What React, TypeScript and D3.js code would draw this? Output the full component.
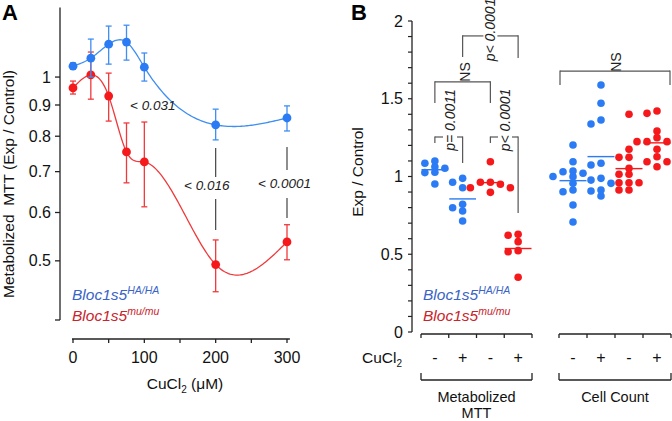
import React from "react";
import * as d3 from "d3";

// ---------- Panel A data ----------
const concentrations = [0, 25, 50, 75, 100, 200, 300];
const haMean = [1.042, 1.074, 1.132, 1.141, 1.038, 0.835, 0.857];
const haUpper = [1.055, 1.154, 1.212, 1.216, 1.095, 0.886, 0.897];
const haLower = [1.03, 1.0, 1.05, 1.066, 0.985, 0.789, 0.816];
const muMean = [0.96, 1.008, 0.931, 0.754, 0.726, 0.493, 0.537];
const muUpper = [0.985, 1.099, 1.015, 0.841, 0.844, 0.541, 0.573];
const muLower = [0.938, 0.92, 0.847, 0.671, 0.613, 0.445, 0.502];
const yTicksA = [0.4, 0.5, 0.6, 0.7, 0.8, 0.9, 1];
const yTickLabelsA = [0.5, 0.6, 0.7, 0.8, 0.9, 1];
const xTicksA = [0, 50, 100, 150, 200, 250, 300];
const xTickLabelsA = [0, 100, 200, 300];
const pLabelsA = ["< 0.031", "< 0.016", "< 0.0001"];

// ---------- Panel B data ----------
const treatmentLabels = ["-", "+", "-", "+"];
const mttHAminus = [1.1, 1.085, 1.063, 1.053, 1.027, 1.025, 0.952];
const mttHAplus = [0.988, 0.963, 0.928, 0.821, 0.799, 0.778, 0.714];
const mttMuMinus = [1.095, 0.963, 0.963, 0.95, 0.928, 0.928, 0.898];
const mttMuPlus = [0.628, 0.622, 0.581, 0.523, 0.516, 0.352];
const cellHAminus = [1.203, 1.095, 1.035, 1.031, 1.021, 1.0, 0.999, 0.956, 0.913, 0.902, 0.817, 0.707];
const cellHAplus = [1.588, 1.471, 1.363, 1.338, 1.085, 1.074, 0.988, 0.977, 0.956, 0.913, 0.907, 0.875];
const cellMuMinus = [1.4, 1.175, 1.123, 1.123, 1.053, 1.014, 1.014, 0.96, 0.96, 0.96, 0.913, 0.913];
const cellMuPlus = [1.421, 1.406, 1.293, 1.25, 1.224, 1.224, 1.224, 1.175, 1.127, 1.095, 1.095, 1.063];
const yTicksB = d3.range(0, 21).map((i) => i / 10);
const yTickLabelsB = [0, 0.5, 1, 1.5, 2];

const BLUE = "#2b7cf4";
const RED = "#f5191c";
const BLUE_LINE = "#3f8ef2";
const RED_LINE = "#f0393b";
const BLUE_TEXT = "#3a63c6";
const RED_TEXT = "#c9242b";
const AXIS = "#222";
const FONT = "'Liberation Sans', Arial, Helvetica, sans-serif";

function naturalSpline(xs: number[], ys: number[]) {
  const n = xs.length;
  const h: number[] = [];
  for (let i = 0; i < n - 1; i++) h.push(xs[i + 1] - xs[i]);
  const alpha = new Array(n).fill(0);
  for (let i = 1; i < n - 1; i++)
    alpha[i] = (3 / h[i]) * (ys[i + 1] - ys[i]) - (3 / h[i - 1]) * (ys[i] - ys[i - 1]);
  const l = new Array(n).fill(0), mu = new Array(n).fill(0), z = new Array(n).fill(0);
  l[0] = 1;
  for (let i = 1; i < n - 1; i++) {
    l[i] = 2 * (xs[i + 1] - xs[i - 1]) - h[i - 1] * mu[i - 1];
    mu[i] = h[i] / l[i];
    z[i] = (alpha[i] - h[i - 1] * z[i - 1]) / l[i];
  }
  l[n - 1] = 1;
  const c = new Array(n).fill(0), b = new Array(n).fill(0), d = new Array(n).fill(0);
  for (let j = n - 2; j >= 0; j--) {
    c[j] = z[j] - mu[j] * c[j + 1];
    b[j] = (ys[j + 1] - ys[j]) / h[j] - (h[j] * (c[j + 1] + 2 * c[j])) / 3;
    d[j] = (c[j + 1] - c[j]) / (3 * h[j]);
  }
  return (x: number) => {
    let j = 0;
    while (j < n - 2 && x > xs[j + 1]) j++;
    const dx = x - xs[j];
    return ys[j] + b[j] * dx + c[j] * dx * dx + d[j] * dx * dx * dx;
  };
}

function swarm(values: number[], cx: number, y: (v: number) => number, step = 10, minDist = 5.5) {
  const order = values.map((v) => v).sort((a, b) => b - a);
  const placed: { x: number; y: number; v: number }[] = [];
  for (const v of order) {
    const py = y(v);
    for (const k of [0, -1, 1, -2, 2, -3, 3]) {
      const px = cx + k * step;
      if (placed.every((p) => Math.hypot(p.x - px, p.y - py) >= minDist)) {
        placed.push({ x: px, y: py, v });
        break;
      }
    }
  }
  return placed;
}

function Legend({ x, y1, y2 }: { x: number; y1: number; y2: number }) {
  return (
    <g fontStyle="italic" fontSize={15.5}>
      <text x={x} y={y1} fill={BLUE_TEXT}>
        Bloc1s5<tspan dy={-6} fontSize={10.5}>HA/HA</tspan>
      </text>
      <text x={x} y={y2} fill={RED_TEXT}>
        Bloc1s5<tspan dy={-6} fontSize={10.5}>mu/mu</tspan>
      </text>
    </g>
  );
}

export default function App() {
  // ---------- Panel A scales ----------
  const xA = d3.scaleLinear().domain([0, 300]).range([73, 287]);
  const yA = d3.scaleLog().domain([0.4, 1.3]).range([320, 7.5]);
  const axisAx = 60;
  const axisAy = 339;

  const fitPath = (vals: number[]) => {
    const f = naturalSpline(concentrations, vals.map((v) => Math.log(v)));
    const xs = d3.range(0, 300.01, 2);
    return d3
      .line<number>()
      .x((c) => xA(c))
      .y((c) => yA(Math.exp(f(c))))
      .curve(d3.curveLinear)(xs) as string;
  };

  const seriesA = [
    { mean: muMean, up: muUpper, lo: muLower, dot: RED, line: RED_LINE },
    { mean: haMean, up: haUpper, lo: haLower, dot: BLUE, line: BLUE_LINE },
  ];

  // annotation layout for panel A
  const annA = [
    { label: pLabelsA[0], x: 130, y: 110, line: null as null | number[] },
    { label: pLabelsA[1], x: 184, y: 190, line: [concentrations[5], 148, 177, 199, 230] },
    { label: pLabelsA[2], x: 258, y: 188, line: [concentrations[6], 147, 170, 198, 218] },
  ];

  // ---------- Panel B scales ----------
  const yB = d3.scaleLinear().domain([0, 2]).range([332, 21]);
  const axisBx = 412;
  const axisBy = 334;
  const bandM = d3.scaleBand<number>().domain([0, 1, 2, 3]).range([421, 532]);
  const bandC = d3.scaleBand<number>().domain([0, 1, 2, 3]).range([559, 671]);
  const cM = (i: number) => (bandM(i) as number) + bandM.bandwidth() / 2;
  const cC = (i: number) => (bandC(i) as number) + bandC.bandwidth() / 2;
  const colors = [BLUE, BLUE, RED, RED];
  const groupsB = [
    ...[mttHAminus, mttHAplus, mttMuMinus, mttMuPlus].map((vals, i) => ({ vals, band: bandM, i, cx: cM(i) })),
    ...[cellHAminus, cellHAplus, cellMuMinus, cellMuPlus].map((vals, i) => ({ vals, band: bandC, i, cx: cC(i) })),
  ];

  const bracket = (
    x1: number, x2: number, yv: number, leg1: number, leg2: number,
    label: string, lx: number, ly: number, gap: boolean, key: string
  ) => {
    const y = yB(yv);
    const segs: number[][] = gap
      ? [[x1, lx - 7], [lx + 7, x2]]
      : [[x1, x2]];
    return (
      <g key={key}>
        {segs.map((s, k) => (
          <line key={k} x1={s[0]} x2={s[1]} y1={y} y2={y} stroke="#555" strokeWidth={1.2} />
        ))}
        <line x1={x1} x2={x1} y1={y - 0.6} y2={yB(leg1)} stroke="#555" strokeWidth={1.2} />
        <line x1={x2} x2={x2} y1={y - 0.6} y2={yB(leg2)} stroke="#555" strokeWidth={1.2} />
        <text
          transform={`translate(${lx},${ly}) rotate(-90)`}
          textAnchor="middle"
          dominantBaseline="central"
          fontSize={14}
          fontStyle={label.startsWith("p") ? "italic" : "normal"}
          fill="#222"
        >
          {label}
        </text>
      </g>
    );
  };

  const nsMid = (cM(0) + cM(2)) / 2;

  return (
    <svg
      width={672}
      height={421}
      style={{ position: "absolute", left: 0, top: 0, background: "#fff" }}
      fontFamily={FONT}
    >
      {/* ================= Panel A ================= */}
      <text x={2} y={20} fontSize={22} fontWeight="bold">A</text>
      {/* y axis */}
      <line x1={axisAx} x2={axisAx} y1={yA(1.3)} y2={yA(0.4)} stroke={AXIS} strokeWidth={1.3} />
      {yTicksA.map((t) => (
        <line key={t} x1={axisAx - 5} x2={axisAx} y1={yA(t)} y2={yA(t)} stroke={AXIS} strokeWidth={1.3} />
      ))}
      {yTickLabelsA.map((t) => (
        <text key={t} x={axisAx - 9} y={yA(t)} dy="0.35em" textAnchor="end" fontSize={16} fill="#111">
          {String(t)}
        </text>
      ))}
      <text
        transform={`translate(14,184) rotate(-90)`}
        textAnchor="middle"
        fontSize={15.5}
        fill="#111"
      >
        Metabolized{"\u00a0\u00a0"}MTT (Exp / Control)
      </text>
      {/* x axis */}
      <line x1={xA(0) - 1} x2={xA(304)} y1={axisAy} y2={axisAy} stroke={AXIS} strokeWidth={1.3} />
      {xTicksA.map((t) => (
        <line key={t} x1={xA(t)} x2={xA(t)} y1={axisAy} y2={axisAy + 4} stroke={AXIS} strokeWidth={1.3} />
      ))}
      {xTickLabelsA.map((t) => (
        <text key={t} x={xA(t)} y={363} textAnchor="middle" fontSize={16} fill="#111">
          {t}
        </text>
      ))}
      <text x={xA(157)} y={389} textAnchor="middle" fontSize={15.5} fill="#111">
        CuCl<tspan dy={4} fontSize={10}>2</tspan>
        <tspan dy={-4}> (μM)</tspan>
      </text>

      {/* fitted curves */}
      {seriesA.map((s, k) => (
        <path key={k} d={fitPath(s.mean)} fill="none" stroke={s.line} strokeWidth={1.3} />
      ))}
      {/* error bars + points */}
      {seriesA.map((s, k) => (
        <g key={k}>
          {concentrations.map((c, i) => (
            <g key={i} stroke={s.line} strokeWidth={1.3}>
              <line x1={xA(c)} x2={xA(c)} y1={yA(s.up[i])} y2={yA(s.lo[i])} />
              <line x1={xA(c) - 3} x2={xA(c) + 3} y1={yA(s.up[i])} y2={yA(s.up[i])} />
              <line x1={xA(c) - 3} x2={xA(c) + 3} y1={yA(s.lo[i])} y2={yA(s.lo[i])} />
            </g>
          ))}
          {concentrations.map((c, i) => (
            <circle key={i} cx={xA(c)} cy={yA(s.mean[i])} r={4.4} fill={s.dot} />
          ))}
        </g>
      ))}
      {/* annotations */}
      {annA.map((a, k) => (
        <g key={k}>
          <text x={a.x} y={a.y} fontSize={13.5} fontStyle="italic" fill="#222">
            {a.label}
          </text>
          {a.line && (
            <g stroke="#444" strokeWidth={1.2}>
              <line x1={xA(a.line[0])} x2={xA(a.line[0])} y1={a.line[1]} y2={a.line[2]} />
              <line x1={xA(a.line[0])} x2={xA(a.line[0])} y1={a.line[3]} y2={a.line[4]} />
            </g>
          )}
        </g>
      ))}
      <Legend x={72} y1={300} y2={321} />

      {/* ================= Panel B ================= */}
      <text x={351} y={20} fontSize={22} fontWeight="bold">B</text>
      <line x1={axisBx} x2={axisBx} y1={yB(2)} y2={yB(0)} stroke={AXIS} strokeWidth={1.3} />
      {yTicksB.map((t) => (
        <line key={t} x1={axisBx - 4} x2={axisBx} y1={yB(t)} y2={yB(t)} stroke={AXIS} strokeWidth={1.2} />
      ))}
      {yTickLabelsB.map((t) => (
        <text key={t} x={axisBx - 9} y={yB(t)} dy="0.35em" textAnchor="end" fontSize={16} fill="#111">
          {String(t)}
        </text>
      ))}
      <text transform={`translate(363,172) rotate(-90)`} textAnchor="middle" fontSize={15.5} fill="#111">
        Exp / Control
      </text>

      {/* x axes */}
      {[bandM, bandC].map((band, k) => {
        const [r0, r1] = band.range();
        return (
          <g key={k} stroke={AXIS} strokeWidth={1.3}>
            <line x1={r0} x2={r1} y1={axisBy} y2={axisBy} />
            {[0, 1, 2, 3].map((i) => (
              <line key={i} x1={band(i) as number} x2={band(i) as number} y1={axisBy} y2={axisBy + 4} />
            ))}
            <line x1={r1} x2={r1} y1={axisBy} y2={axisBy + 4} />
            {/* group bracket */}
            <line x1={r0} x2={r1} y1={380} y2={380} />
            <line x1={r0} x2={r0} y1={380} y2={373} />
            <line x1={r1} x2={r1} y1={380} y2={373} />
          </g>
        );
      })}
      <text x={362} y={363} fontSize={15.5} fill="#111">
        CuCl<tspan dy={4} fontSize={10}>2</tspan>
      </text>
      {[0, 1, 2, 3].map((i) => (
        <g key={i}>
          <text x={cM(i)} y={363} textAnchor="middle" fontSize={16} fill="#111">{treatmentLabels[i]}</text>
          <text x={cC(i)} y={363} textAnchor="middle" fontSize={16} fill="#111">{treatmentLabels[i]}</text>
        </g>
      ))}
      <text x={(421 + 532) / 2} y={402} textAnchor="middle" fontSize={14.5} fill="#111">Metabolized</text>
      <text x={(421 + 532) / 2} y={418} textAnchor="middle" fontSize={14.5} fill="#111">MTT</text>
      <text x={(559 + 671) / 2} y={402} textAnchor="middle" fontSize={14.5} fill="#111">Cell Count</text>

      {/* significance brackets */}
      {bracket(cM(0), cM(1), 1.254, 1.215, 1.087, "p= 0.0011", 450, yB(1.254) - 17, true, "b1")}
      {bracket(cM(2), cM(3), 1.254, 1.215, 0.765, "p< 0.0001", 505, yB(1.254) - 17, true, "b2")}
      {bracket(cM(0), cM(2), 1.608, 1.473, 1.473, "NS", nsMid + 2, yB(1.608) - 10, false, "b3")}
      {bracket(nsMid, cM(3), 1.904, 1.768, 1.762, "p< 0.0001", (nsMid + cM(3)) / 2, yB(1.904) - 6, true, "b4")}
      {bracket(560, 670, 1.678, 1.588, 1.588, "NS", 616, yB(1.678) - 9, false, "b5")}

      {/* dots + mean lines */}
      {groupsB.map((g, k) => {
        const pts = swarm(g.vals, g.cx, (v) => yB(v));
        const m = d3.mean(g.vals) as number;
        const b0 = g.band(g.i) as number;
        return (
          <g key={k}>
            {pts.map((p, j) => (
              <circle key={j} cx={p.x} cy={p.y} r={3.8} fill={colors[g.i]} />
            ))}
            <line x1={b0 + 0.5} x2={b0 + g.band.bandwidth() - 0.5} y1={yB(m)} y2={yB(m)} stroke={colors[g.i]} strokeWidth={1.4} />
          </g>
        );
      })}
      <Legend x={423} y1={300} y2={321} />
    </svg>
  );
}
